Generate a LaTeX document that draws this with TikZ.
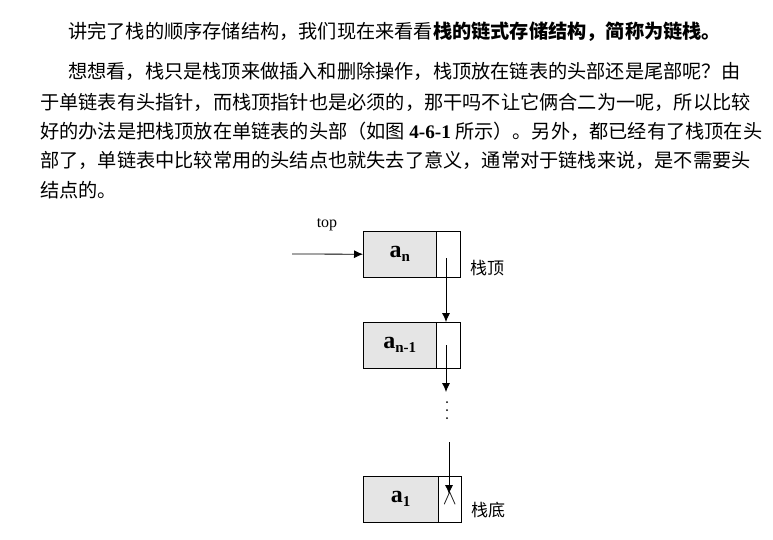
\documentclass[tikz,border=0pt]{standalone}
\usepackage{fontspec}
\usetikzlibrary{arrows.meta}
\setmainfont{Liberation Serif}
\newfontfamily\cjk{Noto Sans CJK SC}
\newcommand{\subx}[1]{{\fontsize{15}{15}\selectfont\raisebox{-4pt}{#1}}}
\begin{document}
\begin{tikzpicture}[x=1pt,y=-1pt,
  txt/.style={anchor=west,inner sep=0pt,font=\cjk\fontsize{19.2}{20}\selectfont},
  dbox/.style={draw,fill=gray!20,minimum width=73pt,minimum height=46pt,inner sep=0pt,anchor=north west,font=\fontsize{24}{26}\selectfont\bfseries},
  pbox/.style={draw,fill=white,minimum width=24pt,minimum height=46pt,inner sep=0pt,anchor=north west},
  arr/.style={-{Latex[length=9pt,width=8pt]},thick},
  dot/.style={circle,fill,inner sep=0pt,minimum size=2pt},
  lab/.style={font=\cjk\fontsize{17}{18}\selectfont,inner sep=0pt}]
\useasboundingbox (0,0) rectangle (773,539);
\node[txt] (l1) at (68,32) {讲完了栈的顺序存储结构，我们现在来看看\textbf{栈的链式存储结构，简称为链栈。}};
\node[txt] (l2) at (68,71) {想想看，栈只是栈顶来做插入和删除操作，栈顶放在链表的头部还是尾部呢？由};
\node[txt] (l3) at (40,102) {于单链表有头指针，而栈顶指针也是必须的，那干吗不让它俩合二为一呢，所以比较};
\node[txt] (l4) at (40,131) {好的办法是把栈顶放在单链表的头部（如图 {\rmfamily\bfseries 4-6-1} 所示）。另外，都已经有了栈顶在头};
\node[txt] (l5) at (40,160) {部了，单链表中比较常用的头结点也就失去了意义，通常对于链栈来说，是不需要头};
\node[txt] (l6) at (40,190) {结点的。};
% boxes
\node[dbox] (d1) at (363,231) {a\subx{n}};
\node[pbox] (p1) at (436,231) {};
\node[dbox] (d2) at (363,322) {a\subx{n-1}};
\node[pbox] (p2) at (436,322) {};
\node[dbox,minimum width=75pt] (d3) at (363,476) {a\subx{1}};
\node[pbox,minimum width=23pt] (p3) at (438,476) {\fontsize{20}{20}\selectfont$\wedge$};
\coordinate (s) at (292,254);
\node[font=\fontsize{16}{18}\selectfont,inner sep=0pt] (top) at (327,225) {top};
\draw[arr] (s) -- (d1.west);
\coordinate (c1) at (446,258);
\draw[arr] (c1) -- (p2.north -| c1);
\coordinate (c2) at (446,345);
\coordinate (c2e) at (446,392);
\draw[arr] (c2) -- (c2e);
\node[dot] (v1) at (447,402) {};
\node[dot] (v2) at (447,410) {};
\node[dot] (v3) at (447,418) {};
\coordinate (c3) at (449,442);
\coordinate (c3e) at (449,494);
\draw[arr] (c3) -- (c3e);
\node[lab] (t1) at (487,268) {栈顶};
\node[lab] (t2) at (488,510) {栈底};
\end{tikzpicture}
\end{document}
